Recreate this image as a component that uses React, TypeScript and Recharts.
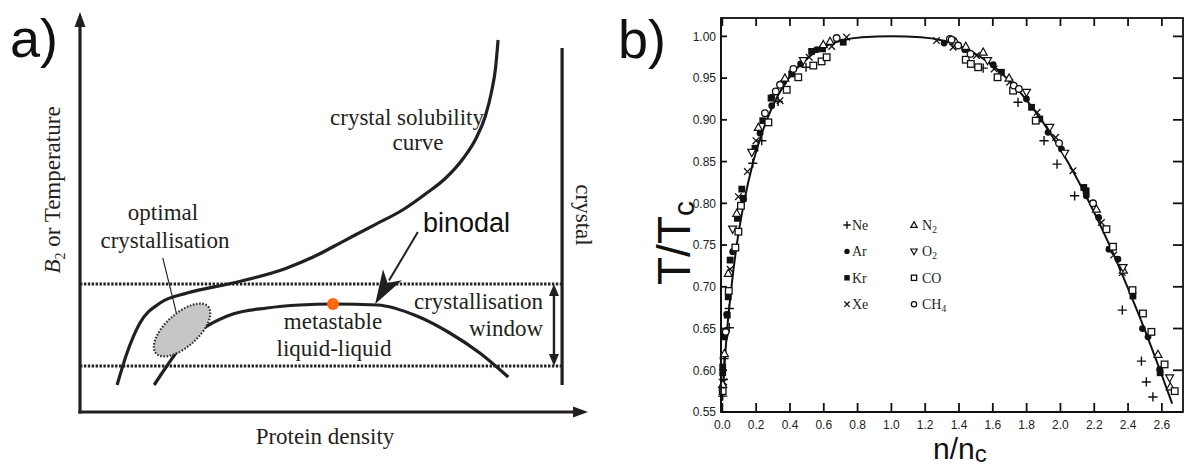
import React from 'react';
import {
  ComposedChart,
  Line,
  Scatter,
  XAxis,
  YAxis,
  ReferenceLine,
  ReferenceDot,
  Legend,
} from 'recharts';

type Pt = [number, number];

// ---------- panel a: schematic phase diagram (arbitrary units 0..100) ----------
const solubilityCurve: Pt[] = [
  [7.3, 6.75], [9.25, 14.75], [11.8, 22.25], [15.75, 27.25], [21.1, 29.75], [30.1, 32.25],
  [40.5, 35.9], [46, 38.8], [52, 42.8], [58, 46.8], [63.5, 50.5], [68, 54.5], [72, 58.5],
  [75.5, 63.5], [78, 68.5], [79.8, 74], [81, 80], [81.8, 86], [82.3, 93],
];
const binodalCurve: Pt[] = [
  [14.6, 6.75], [17.1, 11.5], [21.1, 18.25], [25, 21.5], [30.1, 24.5], [36.8, 26], [43.3, 26.75],
  [49.8, 27], [58.5, 26.75], [66.3, 24], [72.8, 19.75], [78.7, 14.75], [84.3, 8.75],
];
const criticalPoint: Pt = [49.8, 27];
const windowLevels = [32, 11.5];
const windowRight = 94.9;
const crystalLine: Pt[] = [[94.9, 6.75], [94.9, 91]];
const windowArrow: Pt[] = [[93.3, 32], [93.3, 11.5]];
const binodalArrow: Pt[] = [[66.5, 45], [58.1, 27]];
const optimalArrow: Pt[] = [[16.3, 38.5], [19.7, 21]];
const optimalRegion: Pt = [20.1, 20.5];

// ---------- panel b: reduced coexistence curves (Guggenheim) ----------
const fitCurve: Pt[] = [
  [0.003, 0.57], [0.011, 0.6], [0.029, 0.65], [0.054, 0.7], [0.085, 0.75], [0.127, 0.8],
  [0.183, 0.85], [0.263, 0.9], [0.331, 0.93], [0.393, 0.95], [0.479, 0.97], [0.54, 0.98],
  [0.63, 0.99], [0.705, 0.995], [0.826, 0.999], [1.0, 1.0], [1.176, 0.999], [1.303, 0.995],
  [1.385, 0.99], [1.49, 0.98], [1.566, 0.97], [1.682, 0.95], [1.774, 0.93], [1.887, 0.9],
  [2.042, 0.85], [2.173, 0.8], [2.29, 0.75], [2.396, 0.7], [2.496, 0.65], [2.589, 0.6], [2.661, 0.56],
];
const neon: Pt[] = [
  [0.002, 0.569], [0.006, 0.589], [0.01, 0.614], [0.041, 0.651], [0.041, 0.674], [0.18, 0.848],
  [0.233, 0.875], [0.33, 0.922], [0.495, 0.963], [1.543, 0.962], [1.749, 0.921], [1.903, 0.875],
  [1.98, 0.847], [2.084, 0.809], [2.366, 0.672], [2.479, 0.611], [2.508, 0.586], [2.547, 0.568],
];
const argon: Pt[] = [
  [0.016, 0.642], [0.026, 0.667], [0.061, 0.742], [0.124, 0.805], [0.223, 0.884], [0.292, 0.917],
  [0.292, 0.927], [0.361, 0.945], [0.463, 0.967], [0.558, 0.984], [1.312, 0.992], [1.434, 0.984],
  [1.602, 0.966], [1.799, 0.925], [1.927, 0.885], [2.006, 0.865], [2.153, 0.809], [2.226, 0.783],
  [2.287, 0.745], [2.34, 0.733], [2.485, 0.65], [2.518, 0.64], [2.587, 0.601],
];
const krypton: Pt[] = [
  [0.002, 0.597], [0.002, 0.604], [0.012, 0.64], [0.029, 0.666], [0.035, 0.688], [0.046, 0.732],
  [0.089, 0.782], [0.124, 0.806], [0.115, 0.817], [0.193, 0.866], [0.239, 0.899], [0.288, 0.926],
  [0.41, 0.955], [0.528, 0.982], [0.593, 0.985], [0.715, 0.993], [1.651, 0.957], [1.829, 0.915],
  [1.878, 0.901], [2.138, 0.819], [2.152, 0.815], [2.429, 0.689], [2.59, 0.597],
];
const xenon: Pt[] = [
  [0.008, 0.586], [0.046, 0.721], [0.095, 0.808], [0.148, 0.838], [0.199, 0.875], [0.341, 0.923],
  [0.514, 0.975], [0.647, 0.988], [0.735, 0.999], [1.267, 0.995], [1.365, 0.987], [1.503, 0.977],
  [1.608, 0.961], [1.7, 0.945], [1.862, 0.909], [1.972, 0.879], [2.074, 0.839], [2.242, 0.777],
  [2.315, 0.738], [2.366, 0.717],
];
const nitrogen: Pt[] = [
  [0.002, 0.583], [0.012, 0.62], [0.035, 0.716], [0.085, 0.788], [0.213, 0.891], [0.37, 0.95],
  [0.597, 0.99], [0.637, 0.994], [1.37, 0.994], [1.381, 0.993], [1.44, 0.988], [1.543, 0.981],
  [1.696, 0.95], [2.213, 0.793], [2.372, 0.72], [2.577, 0.619], [2.65, 0.58],
];
const oxygen: Pt[] = [
  [0.061, 0.769], [0.174, 0.861], [0.479, 0.971], [1.569, 0.971], [1.799, 0.933], [1.937, 0.891],
  [2.025, 0.86], [2.37, 0.723], [2.646, 0.591],
];
const carbonMonoxide: Pt[] = [
  [0.002, 0.575], [0.038, 0.695], [0.077, 0.747], [0.095, 0.766], [0.11, 0.797], [0.272, 0.897],
  [0.381, 0.936], [0.449, 0.951], [0.538, 0.965], [0.587, 0.97], [0.617, 0.975], [1.44, 0.972],
  [1.47, 0.967], [1.513, 0.963], [1.628, 0.951], [1.72, 0.935], [1.854, 0.899], [2.272, 0.769],
  [2.311, 0.748], [2.426, 0.696], [2.488, 0.668], [2.538, 0.646], [2.616, 0.607], [2.676, 0.575],
];
const methane: Pt[] = [
  [0.02, 0.646], [0.252, 0.908], [0.316, 0.934], [0.341, 0.942], [0.42, 0.961], [0.676, 0.998],
  [1.346, 0.997], [1.356, 0.996], [1.395, 0.989], [1.468, 0.979], [1.724, 0.941], [1.754, 0.937],
  [1.992, 0.872], [2.193, 0.8],
];
const xTicks = [0, 0.2, 0.4, 0.6, 0.8, 1.0, 1.2, 1.4, 1.6, 1.8, 2.0, 2.2, 2.4, 2.6];
const yTicks = [0.55, 0.6, 0.65, 0.7, 0.75, 0.8, 0.85, 0.9, 0.95, 1.0];

const species = [
  { label: 'Ne', sub: '', kind: 'plus', pts: neon },
  { label: 'Ar', sub: '', kind: 'dot', pts: argon },
  { label: 'Kr', sub: '', kind: 'square', pts: krypton },
  { label: 'Xe', sub: '', kind: 'cross', pts: xenon },
  { label: 'N', sub: '2', kind: 'triUp', pts: nitrogen },
  { label: 'O', sub: '2', kind: 'triDown', pts: oxygen },
  { label: 'CO', sub: '', kind: 'box', pts: carbonMonoxide },
  { label: 'CH', sub: '4', kind: 'ring', pts: methane },
];

const serif = '"Liberation Serif", "Times New Roman", serif';
const sans = '"Liberation Sans", Arial, sans-serif';
const ink = '#231f20';

const toXY = (pts: Pt[]) => pts.map(([x, y]) => ({ x, y }));
const seg = (p: Pt[]) => [{ x: p[0][0], y: p[0][1] }, { x: p[1][0], y: p[1][1] }];

function Marker({ kind, cx, cy, k = 1 }: { kind: string; cx: number; cy: number; k?: number }) {
  const c = '#111';
  const s = 3.4 * k;
  switch (kind) {
    case 'plus':
      return <path d={`M${cx - 4.6 * k},${cy}H${cx + 4.6 * k}M${cx},${cy - 4.6 * k}V${cy + 4.6 * k}`} stroke={c} strokeWidth={1.4} />;
    case 'dot':
      return <circle cx={cx} cy={cy} r={s} fill={c} />;
    case 'square':
      return <rect x={cx - s} y={cy - s} width={2 * s} height={2 * s} fill={c} />;
    case 'cross':
      return <path d={`M${cx - 3.3 * k},${cy - 3.3 * k}L${cx + 3.3 * k},${cy + 3.3 * k}M${cx - 3.3 * k},${cy + 3.3 * k}L${cx + 3.3 * k},${cy - 3.3 * k}`} stroke={c} strokeWidth={1.3} />;
    case 'triUp':
      return <polygon points={`${cx},${cy - 4.2 * k} ${cx + 4 * k},${cy + 3 * k} ${cx - 4 * k},${cy + 3 * k}`} fill="#fff" stroke={c} strokeWidth={1.2} />;
    case 'triDown':
      return <polygon points={`${cx},${cy + 4.2 * k} ${cx + 4 * k},${cy - 3 * k} ${cx - 4 * k},${cy - 3 * k}`} fill="#fff" stroke={c} strokeWidth={1.2} />;
    case 'box':
      return <rect x={cx - 3.3 * k} y={cy - 3.3 * k} width={6.6 * k} height={6.6 * k} fill="#fff" stroke={c} strokeWidth={1.3} />;
    default:
      return <circle cx={cx} cy={cy} r={3.3 * k} fill="#fff" stroke={c} strokeWidth={1.3} />;
  }
}

// line with a filled arrow head at the end (and optionally at the start)
function arrow(head: number, half: number, width: number, both = false, notch = 1, cap = 'butt') {
  return function ArrowShape(p: any) {
    const { x1, y1, x2, y2 } = p;
    const len = Math.hypot(x2 - x1, y2 - y1) || 1;
    const ux = (x2 - x1) / len;
    const uy = (y2 - y1) / len;
    const tri = (tx: number, ty: number, sx: number, sy: number) => {
      const bx = tx - sx * head;
      const by = ty - sy * head;
      const mx = tx - sx * head * notch;
      const my = ty - sy * head * notch;
      return `M${tx},${ty}L${bx - sy * half},${by + sx * half}L${mx},${my}L${bx + sy * half},${by - sx * half}Z`;
    };
    const sx0 = both ? x1 + ux * head * 0.8 : x1;
    const sy0 = both ? y1 + uy * head * 0.8 : y1;
    return (
      <g>
        <line x1={sx0} y1={sy0} x2={x2 - ux * head * 0.8} y2={y2 - uy * head * 0.8} stroke={ink} strokeWidth={width} strokeLinecap={cap as any} />
        <path d={tri(x2, y2, ux, uy)} fill={ink} />
        {both && <path d={tri(x1, y1, -ux, -uy)} fill={ink} />}
      </g>
    );
  };
}

function PhaseSketch() {
  return (
    <ComposedChart width={600} height={466} margin={{ top: 12, right: 12, bottom: 54, left: 80 }}>
      <XAxis xAxisId="a" type="number" dataKey="x" domain={[0, 100]} hide />
      <YAxis yAxisId="a" type="number" dataKey="y" domain={[0, 100]} hide />
      <ReferenceLine xAxisId="a" yAxisId="a" segment={seg([[0, 0], [100, 0]])} shape={arrow(15, 5.5, 3.2, false, 1, 'square')} />
      <ReferenceLine xAxisId="a" yAxisId="a" segment={seg([[0, 0], [0, 100]])} shape={arrow(15, 5.5, 3.2, false, 1, 'square')} />
      {windowLevels.map((lv) => (
        <ReferenceLine key={lv} xAxisId="a" yAxisId="a" segment={seg([[0, lv], [windowRight, lv]])}
          stroke={ink} strokeWidth={3} strokeDasharray="2.4 1.5" />
      ))}
      <ReferenceLine xAxisId="a" yAxisId="a" segment={seg(crystalLine)} stroke={ink} strokeWidth={3.2} />
      <ReferenceLine xAxisId="a" yAxisId="a" segment={seg(windowArrow)} shape={arrow(12, 5, 2.4, true)} />
      <ReferenceDot xAxisId="a" yAxisId="a" x={optimalRegion[0]} y={optimalRegion[1]}
        shape={(p: any) => (
          <ellipse cx={p.cx} cy={p.cy} rx={35} ry={16.5} transform={`rotate(-42 ${p.cx} ${p.cy})`}
            fill="#c6c6c8" stroke="#333" strokeWidth={2.2} strokeDasharray="1.6 1.6" />
        )} />
      <Line xAxisId="a" yAxisId="a" data={toXY(solubilityCurve)} dataKey="y" type="monotone" dot={false}
        stroke={ink} strokeWidth={3.2} isAnimationActive={false} />
      <Line xAxisId="a" yAxisId="a" data={toXY(binodalCurve)} dataKey="y" type="monotone" dot={false}
        stroke={ink} strokeWidth={3.2} isAnimationActive={false} />
      <ReferenceLine xAxisId="a" yAxisId="a" segment={seg(optimalArrow)} shape={arrow(11, 4.5, 1.1)} />
      <ReferenceLine xAxisId="a" yAxisId="a" segment={seg(binodalArrow)} shape={arrow(34, 11, 2, false, 0.72)} />
      <ReferenceDot xAxisId="a" yAxisId="a" x={criticalPoint[0]} y={criticalPoint[1]} r={6} fill="#ff6a10" stroke="none" />
    </ComposedChart>
  );
}

function GasLegend() {
  return (
    <svg width={130} height={105} style={{ overflow: 'visible', display: 'block' }}>
      {species.map((s, i) => {
        const col = Math.floor(i / 4);
        const row = i % 4;
        const cx = 7 + col * 67;
        const cy = 13 + row * 26.4;
        return (
          <g key={s.label + s.sub}>
            <Marker kind={s.kind} cx={cx} cy={cy} k={0.8} />
            <text x={cx + (col ? 8 : 5)} y={cy + 4.8} fontFamily={serif} fontSize={14} fill={ink}>
              {s.label}
              {s.sub && <tspan fontSize={9.5} dy={3}>{s.sub}</tspan>}
            </text>
          </g>
        );
      })}
    </svg>
  );
}

function BottomLabel(p: any) {
  return (
    <text x={p.x} y={p.y + 17} textAnchor="middle" fontFamily={sans} fontSize={12} fill="#222">
      {Number(p.payload.value).toFixed(1)}
    </text>
  );
}
function LeftLabel(p: any) {
  return (
    <text x={p.x - 5} y={p.y + 4.3} textAnchor="end" fontFamily={sans} fontSize={12} fill="#222">
      {Number(p.payload.value).toFixed(2)}
    </text>
  );
}

// panel b plot box on the page: chart at x=600, margin left 81 + y axis 40, right margin 3
const xDomain: [number, number] = [-0.008, 2.725];
const yDomain: [number, number] = [0.55, 1.022];
const BOX = { left: 721, right: 1183, top: 18, bottom: 412 };
const TICK = 9;
const pageX = (v: number) => BOX.left + ((v - xDomain[0]) / (xDomain[1] - xDomain[0])) * (BOX.right - BOX.left);
const pageY = (v: number) => BOX.bottom - ((v - yDomain[0]) / (yDomain[1] - yDomain[0])) * (BOX.bottom - BOX.top);

// frame and inward ticks of panel b, drawn on top of the chart
function FrameTicks() {
  const c = '#111';
  return (
    <g stroke={c} strokeWidth={1.8} fill="none">
      <rect x={BOX.left} y={BOX.top} width={BOX.right - BOX.left} height={BOX.bottom - BOX.top} />
      {xTicks.map((v) => (
        <g key={'x' + v}>
          <line x1={pageX(v)} y1={BOX.bottom} x2={pageX(v)} y2={BOX.bottom - TICK} />
          <line x1={pageX(v)} y1={BOX.top} x2={pageX(v)} y2={BOX.top + TICK - 1} />
        </g>
      ))}
      {yTicks.map((v) => (
        <g key={'y' + v}>
          <line x1={BOX.left} y1={pageY(v)} x2={BOX.left + TICK - 3} y2={pageY(v)} />
          <line x1={BOX.right} y1={pageY(v)} x2={BOX.right - TICK - 1} y2={pageY(v)} />
        </g>
      ))}
    </g>
  );
}

function CoexistenceChart() {
  const frame = { stroke: '#111', strokeWidth: 1.8 };
  const ids = { xAxisId: 'b', yAxisId: 'b' };
  return (
    <ComposedChart width={586} height={466} margin={{ top: 18, right: 3, bottom: 34, left: 81 }}>
      <XAxis xAxisId="b" type="number" dataKey="x" domain={xDomain} ticks={xTicks} interval={0}
        tickSize={0} tickMargin={0} height={20} axisLine={frame} tickLine={false} tick={<BottomLabel />} />
      <YAxis yAxisId="b" type="number" dataKey="y" domain={yDomain} ticks={yTicks} interval={0}
        tickSize={0} tickMargin={0} width={40} axisLine={frame} tickLine={false} tick={<LeftLabel />} />
      <Line {...ids} data={toXY(fitCurve)} dataKey="y" type="monotone" dot={false}
        stroke="#111" strokeWidth={2} isAnimationActive={false} />
      {species.map((s) => (
        <Scatter key={s.label + s.sub} {...ids} data={toXY(s.pts)} dataKey="y"
          isAnimationActive={false}
          shape={(p: any) => <Marker kind={s.kind} cx={p.cx} cy={p.cy} />} />
      ))}
      <Legend layout="vertical" align="center" verticalAlign="middle"
        wrapperStyle={{ left: 240, top: 212, width: 130, height: 105 }}
        content={() => <GasLegend />} />
    </ComposedChart>
  );
}

export default function App() {
  return (
    <div style={{ position: 'absolute', left: 0, top: 0, width: 1186, height: 466, background: '#fff', overflow: 'hidden' }}>
      <div style={{ position: 'absolute', left: 0, top: 0 }}>
        <PhaseSketch />
      </div>
      <div style={{ position: 'absolute', left: 600, top: 0 }}>
        <CoexistenceChart />
      </div>
      <svg width={1186} height={466} style={{ position: 'absolute', left: 0, top: 0, pointerEvents: 'none' }}>
        <FrameTicks />
        <text x={10} y={57} fontFamily={sans} fontSize={54} fill="#111">a)</text>
        <text x={618} y={58} fontFamily={sans} fontSize={54} fill="#111">b)</text>
        <g fontFamily={serif} fontSize={23} fill={ink}>
          <text x={407} y={125} textAnchor="middle">crystal solubility</text>
          <text x={418} y={150} textAnchor="middle">curve</text>
          <text x={163} y={220} textAnchor="middle">optimal</text>
          <text x={165} y={248} textAnchor="middle">crystallisation</text>
          <text x={333} y={329} textAnchor="middle">metastable</text>
          <text x={334} y={356} textAnchor="middle">liquid-liquid</text>
          <text x={543} y={309} textAnchor="end">crystallisation</text>
          <text x={543} y={336} textAnchor="end">window</text>
          <text x={325} y={444} textAnchor="middle">Protein density</text>
          <text transform="translate(576,215) rotate(90)" textAnchor="middle">crystal</text>
          <text transform="translate(60,190) rotate(-90)" textAnchor="middle">
            <tspan fontStyle="italic">B</tspan>
            <tspan fontSize={14} dy={5}>2</tspan>
            <tspan dy={-5}> or Temperature</tspan>
          </text>
        </g>
        <text x={423} y={232} fontFamily={sans} fontSize={27} fill="#111">binodal</text>
        <text transform="translate(690,243) rotate(-90)" textAnchor="middle" fontFamily={sans} fontSize={46} fill="#111">
          T/T<tspan fontSize={30} dy={4}>c</tspan>
        </text>
        <text x={933} y={459} fontFamily={sans} fontSize={30} fill="#111">
          n/n<tspan fontSize={24} dy={3}>c</tspan>
        </text>
      </svg>
    </div>
  );
}
